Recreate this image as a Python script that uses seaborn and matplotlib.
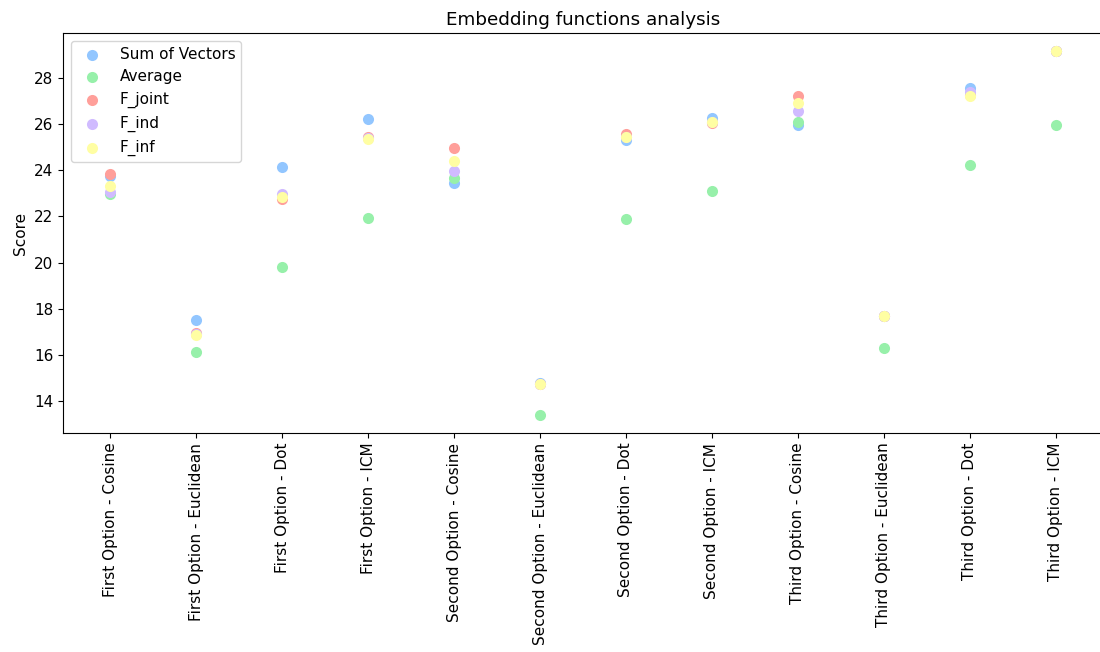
import matplotlib
matplotlib.use("Agg")
import matplotlib.pyplot as plt
import seaborn as sns
import pandas as pd

categories = [
    "First Option - Cosine", "First Option - Euclidean", "First Option - Dot", "First Option - ICM",
    "Second Option - Cosine", "Second Option - Euclidean", "Second Option - Dot", "Second Option - ICM",
    "Third Option - Cosine", "Third Option - Euclidean", "Third Option - Dot", "Third Option - ICM",
]
sum_of_vectors = [23.75, 17.52, 24.16, 26.21, 23.44, 14.77, 25.32, 26.25, 25.97, 17.70, 27.55, 29.16]
average = [22.98, 16.14, 19.80, 21.95, 23.68, 13.41, 21.91, 23.12, 26.11, 16.31, 24.23, 25.97]
f_joint = [23.84, 16.95, 22.75, 25.43, 24.98, 14.76, 25.56, 26.07, 27.23, 17.70, 27.25, 29.15]
f_ind = [23.06, 16.90, 22.98, 25.40, 23.97, 14.76, 25.45, 26.10, 26.57, 17.70, 27.41, 29.15]
f_inf = [23.30, 16.85, 22.86, 25.36, 24.42, 14.76, 25.43, 26.11, 26.90, 17.70, 27.23, 29.15]

series = {
    "Sum of Vectors": sum_of_vectors,
    "Average": average,
    "F_joint": f_joint,
    "F_ind": f_ind,
    "F_inf": f_inf,
}

colors = ["#92C6FF", "#97F0AA", "#FF9F9A", "#D0BBFF", "#FFFEA3"]

plt.rcParams["font.size"] = 11

fig, ax = plt.subplots(figsize=(11, 6.52), dpi=100)
for (name, vals), c in zip(series.items(), colors):
    df = pd.DataFrame({"Option": categories, "Score": vals})
    sns.scatterplot(data=df, x="Option", y="Score", color=c, s=64, label=name,
                    linewidth=0, ax=ax)

ax.set_title("Embedding functions analysis")
ax.set_xlabel("")
ax.set_ylabel("Score")
ax.set_yticks([14, 16, 18, 20, 22, 24, 26, 28])
plt.setp(ax.get_xticklabels(), rotation=90)
ax.legend(loc="upper left")
fig.subplots_adjust(left=63 / 1100, right=1103 / 1100, top=1 - 33 / 652, bottom=1 - 433 / 652)
fig.savefig("out.png", dpi=100)
